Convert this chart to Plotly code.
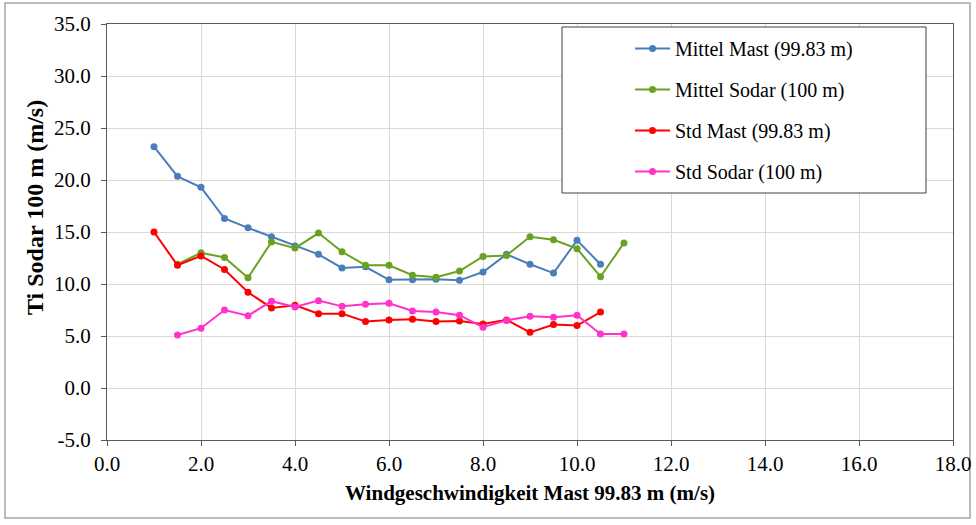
import plotly.graph_objects as go

x_mast = [1.0, 1.5, 2.0, 2.5, 3.0, 3.5, 4.0, 4.5, 5.0, 5.5, 6.0, 6.5, 7.0, 7.5, 8.0, 8.5, 9.0, 9.5, 10.0, 10.5]
x_sodar = [1.5, 2.0, 2.5, 3.0, 3.5, 4.0, 4.5, 5.0, 5.5, 6.0, 6.5, 7.0, 7.5, 8.0, 8.5, 9.0, 9.5, 10.0, 10.5, 11.0]

mittel_mast = [23.2, 20.35, 19.3, 16.3, 15.4, 14.55, 13.65, 12.85, 11.55, 11.65, 10.4, 10.4, 10.45, 10.35, 11.15, 12.85, 11.9, 11.05, 14.2, 11.9]
mittel_sodar = [11.9, 13.0, 12.55, 10.6, 14.05, 13.45, 14.9, 13.1, 11.8, 11.8, 10.85, 10.65, 11.25, 12.65, 12.75, 14.55, 14.25, 13.4, 10.7, 13.95]
std_mast = [15.0, 11.8, 12.7, 11.4, 9.2, 7.7, 7.95, 7.15, 7.15, 6.4, 6.55, 6.6, 6.4, 6.45, 6.15, 6.55, 5.35, 6.1, 6.0, 7.3]
std_sodar = [5.1, 5.75, 7.5, 6.95, 8.35, 7.8, 8.4, 7.85, 8.05, 8.15, 7.4, 7.3, 7.0, 5.85, 6.5, 6.9, 6.8, 7.0, 5.2, 5.2]

names = ["Mittel Mast (99.83 m)", "Mittel Sodar (100 m)", "Std Mast (99.83 m)", "Std Sodar (100 m)"]
colors = ["#4a7ebb", "#6aa121", "#ff0000", "#ff33cc"]
xs = [x_mast, x_sodar, x_mast, x_sodar]
ys = [mittel_mast, mittel_sodar, std_mast, std_sodar]

x_ticks = [0, 2, 4, 6, 8, 10, 12, 14, 16, 18]
y_ticks = [-5, 0, 5, 10, 15, 20, 25, 30, 35]

x_title = "Windgeschwindigkeit Mast 99.83 m (m/s)"
y_title = "Ti Sodar 100 m (m/s)"

FONT = "Liberation Serif"
L, R, T, B = 107, 953, 24, 440
W, H = R - L, B - T

fig = go.Figure()
for i in range(4):
    fig.add_trace(go.Scatter(
        x=xs[i], y=ys[i], name=names[i], mode="lines+markers",
        line=dict(color=colors[i], width=2),
        marker=dict(color=colors[i], size=7),
        legendgroup=f"g{i}",
    ))

axis_common = dict(
    showgrid=True, gridcolor="#d9d9d9", gridwidth=1,
    showline=True, linecolor="#595959", linewidth=1, mirror=True,
    ticks="outside", ticklen=5, tickcolor="#595959",
    zeroline=False, automargin=False,
    tickfont=dict(family=FONT, size=21, color="#000000"),
)

fig.update_layout(
    width=976, height=525,
    margin=dict(l=L, r=976 - R, t=T, b=525 - B, autoexpand=False),
    paper_bgcolor="white", plot_bgcolor="white",
    font=dict(family=FONT, size=16, color="#000000"),
    showlegend=True,
    legend=dict(
        x=(630 - L) / W, y=(B - 29) / H, xanchor="left", yanchor="top",
        bgcolor="rgba(0,0,0,0)", borderwidth=0,
        font=dict(family=FONT, size=20, color="#000000"),
        traceorder="grouped", tracegroupgap=12,
        itemwidth=35,
    ),
    xaxis=dict(range=[0, 18], tickvals=x_ticks, ticktext=[f"{v:.1f}" for v in x_ticks],
               ticklabelstandoff=0, **axis_common),
    yaxis=dict(range=[-5, 35], tickvals=y_ticks, ticktext=[f"{v:.1f}" for v in y_ticks],
               ticklabelstandoff=6, **axis_common),
    annotations=[
        dict(text=f"<b>{x_title}</b>", xref="paper", yref="paper",
             x=(530 - L) / W, y=(B - 493) / H, xanchor="center", yanchor="middle",
             showarrow=False, font=dict(family=FONT, size=21, color="#000000")),
        dict(text=f"<b>{y_title}</b>", xref="paper", yref="paper",
             x=(35 - L) / W, y=(B - 208) / H, xanchor="center", yanchor="middle",
             textangle=-90, showarrow=False, font=dict(family=FONT, size=24, color="#000000")),
    ],
    shapes=[
        dict(type="rect", xref="paper", yref="paper",
             x0=(562 - L) / W, x1=(926 - L) / W,
             y0=(B - 193) / H, y1=(B - 27) / H,
             line=dict(color="#404040", width=1), fillcolor="white", layer="above"),
        dict(type="rect", xref="paper", yref="paper",
             x0=(5 - L) / W, x1=(970 - L) / W,
             y0=(B - 518) / H, y1=(B - 3) / H,
             line=dict(color="#a6a6a6", width=1.5), fillcolor="rgba(0,0,0,0)", layer="below"),
    ],
)

fig.write_html(
    "out.html",
    config={"displayModeBar": False},
    post_script="document.body.style.margin='0';document.body.style.overflow='hidden';",
)
